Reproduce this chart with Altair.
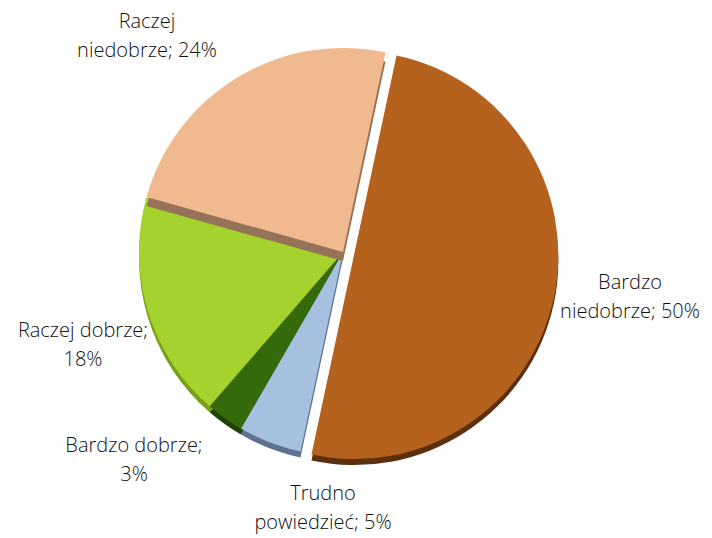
import math
import altair as alt
import pandas as pd

categories = ["Bardzo niedobrze", "Trudno powiedzieć", "Bardzo dobrze", "Raczej dobrze", "Raczej niedobrze"]
values = [50, 5, 3, 18, 24]
top_colors = ["#B5621F", "#A6C0E0", "#356A0B", "#A5D22C", "#F1B98F"]
side_colors = ["#5C300D", "#5E7290", "#1F4206", "#76A01A", "#967258"]
label_texts = [
    "Bardzo\nniedobrze; 50%",
    "Trudno\npowiedzieć; 5%",
    "Bardzo dobrze;\n3%",
    "Raczej dobrze;\n18%",
    "Raczej\nniedobrze; 24%",
]

ends = []
acc = 0
for v in values:
    acc += v
    ends.append(acc)
starts = [e - v for e, v in zip(ends, values)]
df = pd.DataFrame({"cat": categories, "value": values, "start": starts, "end": ends})

a0 = 0.21
theta_scale = alt.Scale(domain=[0, 100], range=[a0, a0 + 2 * math.pi])
CX, CY, R, DEPTH = 335, 244, 204, 6

base = alt.Chart(df)


def arcs(cats, colors, dx=0, dy=0, explode=None):
    layers = []
    for c in cats:
        i = categories.index(c)
        ox, oy = (11, 3) if c == explode else (0, 0)
        layers.append(
            base.transform_filter(alt.datum.cat == c)
            .mark_arc(outerRadius=R, stroke=None)
            .encode(
                theta=alt.Theta("start:Q", scale=theta_scale),
                theta2="end:Q",
                x=alt.value(CX + dx + ox),
                y=alt.value(CY + dy + oy),
                color=alt.value(colors[i]),
            )
        )
    return layers


lower = ["Bardzo niedobrze", "Trudno powiedzieć", "Bardzo dobrze", "Raczej dobrze"]
layers = []
layers += arcs(lower, side_colors, 0, DEPTH, explode="Bardzo niedobrze")
layers += arcs(lower, top_colors, 0, 0, explode="Bardzo niedobrze")
layers += arcs(["Raczej niedobrze"], side_colors, 0, DEPTH + 3)
layers += arcs(["Raczej niedobrze"], top_colors, 0, 0)

label_pos = {
    "Bardzo niedobrze": (622, 275),
    "Trudno powiedzieć": (315, 486),
    "Bardzo dobrze": (126, 438),
    "Raczej dobrze": (75, 323),
    "Raczej niedobrze": (139, 14),
}
for c, t in zip(categories, label_texts):
    px, py = label_pos[c]
    layers.append(
        alt.Chart(pd.DataFrame({"t": [t]}))
        .mark_text(font="Open Sans", fontSize=20, fontWeight=300, color="#111111",
                   lineBreak="\n", lineHeight=29, align="center", baseline="middle")
        .encode(text="t:N", x=alt.value(px), y=alt.value(py))
    )

chart = (
    alt.layer(*layers)
    .properties(width=696, height=530, padding=0, autosize=alt.AutoSizeParams(type="none"))
    .configure_view(stroke=None)
)
chart.save("out.html", embed_options={"renderer": "svg", "actions": False})
